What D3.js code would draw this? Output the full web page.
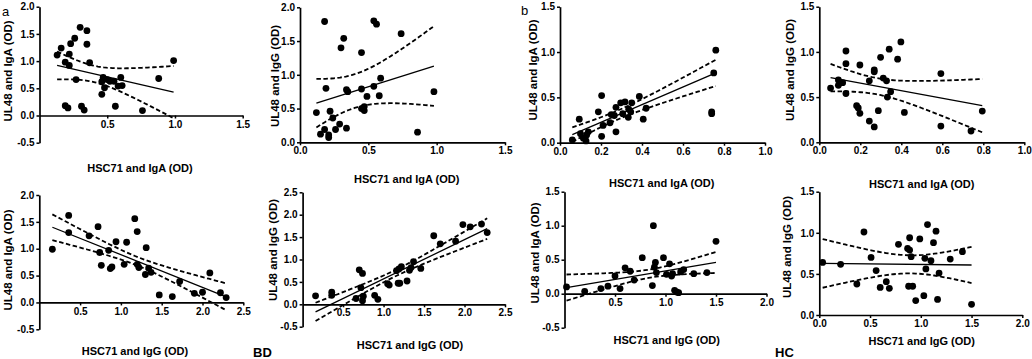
<!DOCTYPE html>
<html><head><meta charset="utf-8">
<script src="https://cdn.jsdelivr.net/npm/d3@7"></script>
<style>
html,body{margin:0;padding:0;background:#fff;}
svg{display:block;font-family:"Liberation Sans",Arial,sans-serif;}
</style></head>
<body>
<svg id="chart" width="1032" height="359"></svg>
<script>
// ---------- DATA ----------
// BD: HSC71-IgA vs UL48-IgA
const p1X = [0.13,0.16,0.19,0.22,0.22,0.23,0.26,0.30,0.35,0.35,0.37,0.27,0.19,0.21,0.31,0.33,0.46,0.46,0.47,0.48,0.50,0.52,0.55,0.56,0.58,0.60,0.61,0.76,0.88,0.99];
const p1Y = [1.11,1.24,0.98,0.92,1.13,1.32,1.42,1.62,1.56,1.31,0.97,0.66,0.18,0.14,0.17,0.10,0.39,0.62,0.70,0.51,0.66,0.63,0.63,0.17,0.54,0.70,0.55,0.09,0.68,1.01];
// BD: HSC71-IgA vs UL48-IgG
const p2X = [0.12,0.15,0.18,0.18,0.19,0.22,0.21,0.21,0.24,0.26,0.29,0.30,0.32,0.34,0.34,0.35,0.45,0.45,0.45,0.47,0.47,0.49,0.54,0.54,0.56,0.58,0.59,0.74,0.86,0.98];
const p2Y = [0.44,0.12,0.19,1.79,0.80,0.46,0.11,0.07,0.36,0.19,0.27,1.40,1.54,0.78,0.21,0.75,1.33,0.79,0.50,0.47,0.53,0.68,0.83,1.80,1.75,0.69,0.95,1.61,0.15,0.75];
// HC: HSC71-IgA vs UL48-IgA
const p3X = [0.06,0.094,0.10,0.114,0.127,0.13,0.138,0.187,0.203,0.203,0.21,0.244,0.25,0.265,0.273,0.273,0.296,0.317,0.306,0.333,0.35,0.345,0.335,0.387,0.406,0.42,0.74,0.74,0.75,0.76];
const p3Y = [0.03,0.26,0.10,0.05,0.02,0.085,0.12,0.34,0.52,0.07,0.19,0.22,0.31,0.30,0.12,0.39,0.44,0.45,0.32,0.28,0.44,0.34,0.37,0.51,0.26,0.38,0.32,0.34,0.77,1.02];
// HC: HSC71-IgA vs UL48-IgG
const p4X = [0.055,0.093,0.093,0.114,0.13,0.13,0.13,0.182,0.19,0.198,0.198,0.244,0.244,0.268,0.268,0.268,0.288,0.299,0.312,0.328,0.332,0.341,0.348,0.382,0.398,0.415,0.593,0.593,0.74,0.795];
const p4Y = [0.60,0.69,0.63,0.66,1.01,0.87,0.54,0.405,0.38,0.32,0.855,0.68,0.235,0.80,0.78,0.17,0.35,0.94,0.71,0.68,0.50,1.03,0.56,0.92,1.11,0.33,0.76,0.18,0.125,0.345];
// BD: HSC71-IgG vs UL48-IgA
const p5X = [0.16,0.36,0.36,0.61,0.72,0.74,0.76,0.85,0.87,0.89,0.94,1.04,1.07,1.17,1.20,1.20,1.22,1.31,1.30,1.34,1.37,1.47,1.63,1.72,1.90,2.00,2.09,2.22,2.29];
const p5Y = [0.99,1.62,1.30,1.24,1.41,0.93,0.69,0.97,0.63,0.66,1.13,0.71,1.12,1.56,0.71,1.32,0.65,1.02,0.52,0.64,0.56,0.14,0.11,0.39,0.17,0.19,0.55,0.18,0.09];
// BD: HSC71-IgG vs UL48-IgG
const p6X = [0.16,0.36,0.36,0.66,0.72,0.74,0.75,0.70,0.74,0.89,0.93,1.05,1.07,1.18,1.20,1.29,1.16,1.19,1.22,1.32,1.34,1.37,1.46,1.62,1.70,1.89,1.98,2.07,2.21,2.28];
const p6Y = [0.19,0.27,0.20,0.13,0.37,0.08,0.18,0.77,0.69,0.20,0.11,0.46,0.43,0.47,0.47,0.52,0.75,0.79,0.84,0.76,0.82,0.95,0.80,1.53,1.35,1.41,1.78,1.73,1.79,1.60];
// HC: HSC71-IgG vs UL48-IgA
const p7X = [0.02,0.20,0.36,0.43,0.50,0.55,0.60,0.65,0.69,0.77,0.88,0.87,0.89,0.90,0.91,0.98,1.01,1.04,1.06,1.07,1.09,1.11,1.13,1.15,1.18,1.28,1.41,1.50];
const p7Y = [0.10,0.035,0.075,0.11,0.26,0.075,0.38,0.33,0.20,0.53,1.00,0.12,0.39,0.46,0.31,0.53,0.285,0.44,0.26,0.295,0.05,0.025,0.015,0.32,0.355,0.295,0.31,0.77];
// HC: HSC71-IgG vs UL48-IgG
const p8X = [0.033,0.21,0.37,0.44,0.51,0.56,0.60,0.66,0.69,0.78,0.87,0.89,0.89,0.88,0.92,0.905,0.95,0.99,1.03,1.04,1.05,1.066,1.10,1.125,1.15,1.165,1.18,1.29,1.41,1.50];
const p8Y = [0.64,0.616,0.377,1.01,0.70,0.54,0.336,0.405,0.324,0.86,0.81,0.79,0.94,0.35,0.35,0.71,0.175,0.925,0.235,0.69,0.56,1.10,0.66,0.88,1.02,0.19,0.51,0.68,0.77,0.13];

// regression line values at min x and max x
const p1Fit = [0.92, 0.43], p2Fit = [0.58, 1.13], p3Fit = [0.09, 0.77], p4Fit = [0.715, 0.405];
const p5Fit = [1.40, 0.105], p6Fit = [-0.17, 1.69], p7Fit = [0.09, 0.46], p8Fit = [0.628, 0.608];
// 95% band: [x of narrowest point, half-width there, half-width at max x]
const p1Band = [0.40, 0.15, 0.48], p2Band = [0.40, 0.25, 0.59], p3Band = [0.28, 0.05, 0.145], p4Band = [0.28, 0.09, 0.295];
const p5Band = [1.20, 0.08, 0.25], p6Band = [1.15, 0.07, 0.23], p7Band = [0.85, 0.06, 0.155], p8Band = [0.90, 0.11, 0.22];

// tick values
const yTicksA = [-0.5,0,0.5,1.0,1.5,2.0];
const yTicksB = [0,0.5,1.0,1.5,2.0];
const yTicksC = [0,0.5,1.0,1.5];
const yTicksD = [-0.5,0,0.5,1.0,1.5,2.0,2.5];
const yTicksE = [-0.5,0,0.5,1.0,1.5];
const xTicksA = [0.5,1.0,1.5];
const xTicksB = [0,0.5,1.0,1.5];
const xTicksC = [0,0.2,0.4,0.6,0.8,1.0];
const xTicksD = [0.5,1.0,1.5,2.0,2.5];
const xTicksE = [0.5,1.0,1.5,2.0];
const xTicksF = [0,0.5,1.0,1.5,2.0];

const xTitleIgA = "HSC71 and IgA (OD)", xTitleIgG = "HSC71 and IgG (OD)";
const yTitleIgA = "UL48 and IgA (OD)", yTitleIgG = "UL48 and IgG (OD)";

// ---------- LAYOUT ----------
const panels = [
 {x:p1X,y:p1Y,fit:p1Fit,band:p1Band,xd:[0,1.5],yd:[-0.5,2],xr:[39.5,242.7],yr:[142.7,6.7],xt:xTicksA,yt:yTicksA,xl:xTitleIgA,yl:yTitleIgA,xlp:[140,172],ylp:[11.5,71]},
 {x:p2X,y:p2Y,fit:p2Fit,band:p2Band,xd:[0,1.5],yd:[0,2],xr:[300,505],yr:[142.3,7.3],xt:xTicksB,yt:yTicksB,xl:xTitleIgA,yl:yTitleIgG,xlp:[406.7,183],ylp:[279,76]},
 {x:p3X,y:p3Y,fit:p3Fit,band:p3Band,xd:[0,1],yd:[0,1.5],xr:[560,765],yr:[142.7,6.7],xt:xTicksC,yt:yTicksC,xl:xTitleIgA,yl:yTitleIgA,xlp:[661.7,187],ylp:[537,70]},
 {x:p4X,y:p4Y,fit:p4Fit,band:p4Band,xd:[0,1],yd:[0,1.5],xr:[819.3,1024.3],yr:[142.3,6.7],xt:xTicksC,yt:yTicksC,xl:xTitleIgA,yl:yTitleIgG,xlp:[921.7,188],ylp:[794,70]},
 {x:p5X,y:p5Y,fit:p5Fit,band:p5Band,xd:[0,2.5],yd:[-0.5,2],xr:[39.3,243.3],yr:[329.3,195],xt:xTicksD,yt:yTicksA,xl:xTitleIgG,yl:yTitleIgA,xlp:[135,355],ylp:[12,260]},
 {x:p6X,y:p6Y,fit:p6Fit,band:p6Band,xd:[0,2.5],yd:[-0.5,2.5],xr:[302.6,505],yr:[326.7,192.3],xt:xTicksD,yt:yTicksD,xl:xTitleIgG,yl:yTitleIgG,xlp:[410,349],ylp:[277,250]},
 {x:p7X,y:p7Y,fit:p7Fit,band:p7Band,xd:[0,2],yd:[-0.5,1.5],xr:[564.5,766.5],yr:[327.7,191.7],xt:xTicksE,yt:yTicksE,xl:xTitleIgG,yl:yTitleIgA,xlp:[666.7,344],ylp:[539,253]},
 {x:p8X,y:p8Y,fit:p8Fit,band:p8Band,xd:[0,2],yd:[0,1.5],xr:[819.3,1022.3],yr:[315,191.7],xt:xTicksF,yt:yTicksC,xl:xTitleIgG,yl:yTitleIgG,xlp:[921.7,345],ylp:[791,247]}
];

const svg = d3.select("#chart");
const fmt = d => d.toFixed(1);

panels.forEach(p => {
  const xs = d3.scaleLinear().domain(p.xd).range(p.xr);
  const ys = d3.scaleLinear().domain(p.yd).range(p.yr);
  const g = svg.append("g");

  const ya = g.append("g").attr("transform", `translate(${p.xr[0]},0)`)
    .call(d3.axisLeft(ys).tickValues(p.yt).tickFormat(fmt).tickSize(3).tickSizeOuter(0).tickPadding(2));
  const xa = g.append("g").attr("transform", `translate(0,${ys(0)})`)
    .call(d3.axisBottom(xs).tickValues(p.xt).tickFormat(fmt).tickSize(3).tickSizeOuter(0).tickPadding(2));
  [ya, xa].forEach(a => {
    a.select(".domain").attr("stroke","#000").attr("stroke-width",1.7);
    a.selectAll(".tick line").attr("stroke","#000").attr("stroke-width",1.5);
    a.selectAll(".tick text").attr("fill","#000").style("font-size","10px").style("font-weight","bold")
      .style("font-family",'"Liberation Sans",Arial,sans-serif');
  });

  const xmin = d3.min(p.x), xmax = d3.max(p.x);
  const lineY = x => p.fit[0] + (p.fit[1]-p.fit[0])*(x-xmin)/(xmax-xmin);
  const [xm, h0, hEnd] = p.band;
  const k = Math.sqrt(Math.max(hEnd*hEnd - h0*h0, 0)) / Math.abs(xmax - xm);
  const hw = x => Math.sqrt(h0*h0 + k*k*(x-xm)*(x-xm));
  const samples = d3.range(0, 41).map(i => xmin + (xmax-xmin)*i/40);
  const ln = d3.line().x(d => xs(d[0])).y(d => ys(d[1]));
  g.append("path").attr("d", ln(samples.map(x => [x, lineY(x) + hw(x)])))
    .attr("fill","none").attr("stroke","#000").attr("stroke-width",1.8).attr("stroke-dasharray","4.5,2.5");
  g.append("path").attr("d", ln(samples.map(x => [x, lineY(x) - hw(x)])))
    .attr("fill","none").attr("stroke","#000").attr("stroke-width",1.8).attr("stroke-dasharray","4.5,2.5");
  g.append("path").attr("d", ln([[xmin, lineY(xmin)], [xmax, lineY(xmax)]]))
    .attr("fill","none").attr("stroke","#000").attr("stroke-width",1.3);

  g.selectAll("circle").data(p.x.map((v,i)=>[v,p.y[i]])).join("circle")
    .attr("cx", d => xs(d[0])).attr("cy", d => ys(d[1])).attr("r", 3.4).attr("fill","#000");

  g.append("text").attr("x", p.xlp[0]).attr("y", p.xlp[1]).attr("text-anchor","middle")
    .style("font-size","11px").style("font-weight","bold").text(p.xl);
  g.append("text").attr("transform", `translate(${p.ylp[0]},${p.ylp[1]}) rotate(-90)`).attr("text-anchor","middle")
    .style("font-size","11.5px").style("font-weight","bold").text(p.yl);
});

svg.append("text").attr("x", 2).attr("y", 16).style("font-size","13px").text("a");
svg.append("text").attr("x", 521).attr("y", 15).style("font-size","13px").text("b");
svg.append("text").attr("x", 253).attr("y", 357).style("font-size","13px").style("font-weight","bold").text("BD");
svg.append("text").attr("x", 775).attr("y", 357).style("font-size","13px").style("font-weight","bold").text("HC");
</script>
</body></html>
